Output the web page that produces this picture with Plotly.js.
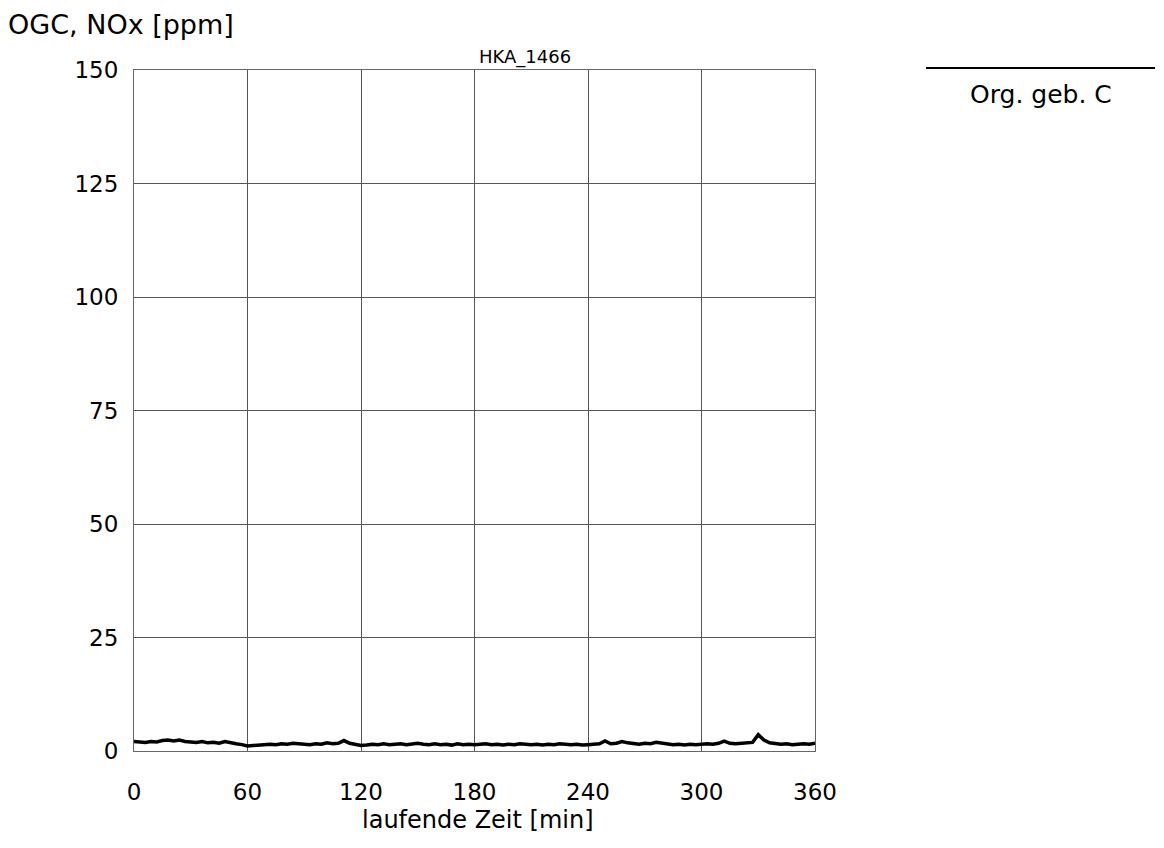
<!DOCTYPE html>
<html>
<head>
<meta charset="utf-8">
<script src="https://cdn.plot.ly/plotly-3.0.1.min.js"></script>
<style>html,body{margin:0;padding:0;background:#fff;}#chart{width:1164px;height:848px;}</style>
</head>
<body>
<div id="chart"></div>
<script>
const timeMin = [0,3,6,9,12,15,18,21,24,27,30,33,36,39,42,45,48,51,54,57,60,63,66,69,72,75,78,81,84,87,90,93,96,99,102,105,108,111,114,117,120,123,126,129,132,135,138,141,144,147,150,153,156,159,162,165,168,171,174,177,180,183,186,189,192,195,198,201,204,207,210,213,216,219,222,225,228,231,234,237,240,243,246,249,252,255,258,261,264,267,270,273,276,279,282,285,288,291,294,297,300,303,306,309,312,315,318,321,324,327,330,333,336,339,342,345,348,351,354,357,360];
const ogcPpm = [2.1,2.0,1.9,2.1,2.0,2.3,2.4,2.2,2.4,2.1,2.0,1.9,2.1,1.8,1.9,1.7,2.1,1.8,1.6,1.4,1.1,1.2,1.3,1.4,1.5,1.4,1.6,1.5,1.7,1.6,1.5,1.4,1.6,1.5,1.8,1.6,1.7,2.3,1.7,1.5,1.2,1.3,1.5,1.4,1.6,1.4,1.5,1.6,1.4,1.5,1.7,1.5,1.4,1.6,1.4,1.5,1.3,1.6,1.4,1.5,1.4,1.5,1.6,1.4,1.5,1.3,1.5,1.4,1.6,1.5,1.4,1.5,1.3,1.5,1.4,1.6,1.5,1.4,1.5,1.3,1.4,1.5,1.6,2.2,1.6,1.7,2.1,1.8,1.6,1.5,1.7,1.6,1.9,1.7,1.5,1.4,1.5,1.3,1.5,1.4,1.5,1.6,1.5,1.7,2.2,1.7,1.6,1.7,1.8,1.9,3.6,2.4,1.8,1.6,1.5,1.6,1.4,1.5,1.6,1.5,1.7];
const xTicks = [0,60,120,180,240,300,360];
const yTicks = [0,25,50,75,100,125,150];
const seriesName = "Org. geb. C";
const chartTitle = "HKA_1466";
const yTitle = "OGC, NOx [ppm]";
const xTitle = "laufende Zeit [min]";

const font = {family: "DejaVu Sans, Liberation Sans, sans-serif", color: "#000"};
const f = s => Object.assign({size: s}, font);

Plotly.newPlot("chart", [{
  x: timeMin, y: ogcPpm, type: "scatter", mode: "lines", name: seriesName,
  line: {color: "#000", width: 3.5}, showlegend: false
}], {
  width: 1164, height: 848,
  paper_bgcolor: "#fff", plot_bgcolor: "#fff",
  margin: {l: 134, r: 349, t: 70, b: 97},
  showlegend: false,
  xaxis: {
    range: [0, 360], tickvals: xTicks, ticktext: xTicks.map(String),
    showgrid: true, gridcolor: "#555", gridwidth: 1,
    showline: true, mirror: true, linecolor: "#666", linewidth: 1,
    zeroline: false, ticks: "", ticklabelstandoff: 20,
    tickfont: f(23)
  },
  yaxis: {
    range: [0, 150], tickvals: yTicks, ticktext: yTicks.map(String),
    showgrid: true, gridcolor: "#555", gridwidth: 1,
    showline: true, mirror: true, linecolor: "#666", linewidth: 1,
    zeroline: false, ticks: "", ticklabelstandoff: 10,
    tickfont: f(23)
  },
  annotations: [
    {text: chartTitle, xref: "paper", yref: "paper", x: 0.5, xshift: 50, y: 1, yshift: 13, xanchor: "center", yanchor: "middle", showarrow: false, font: f(18)},
    {text: yTitle, xref: "paper", yref: "paper", x: 0, xshift: -128, y: 1, yshift: 46, xanchor: "left", yanchor: "middle", showarrow: false, font: f(27)},
    {text: xTitle, xref: "paper", yref: "paper", x: 0.5, xshift: 3, y: 0, yshift: -69, xanchor: "center", yanchor: "middle", showarrow: false, font: f(24)},
    {text: seriesName, xref: "paper", yref: "paper", x: 1, xshift: 226, y: 1, yshift: -24, xanchor: "center", yanchor: "middle", showarrow: false, font: f(25)}
  ],
  shapes: [{
    type: "line", xref: "paper", yref: "paper",
    xsizemode: "pixel", xanchor: 1, x0: 111, x1: 340,
    ysizemode: "pixel", yanchor: 1, y0: 2, y1: 2,
    line: {color: "#000", width: 2}
  }]
}, {displayModeBar: false, staticPlot: true});
</script>
</body>
</html>
